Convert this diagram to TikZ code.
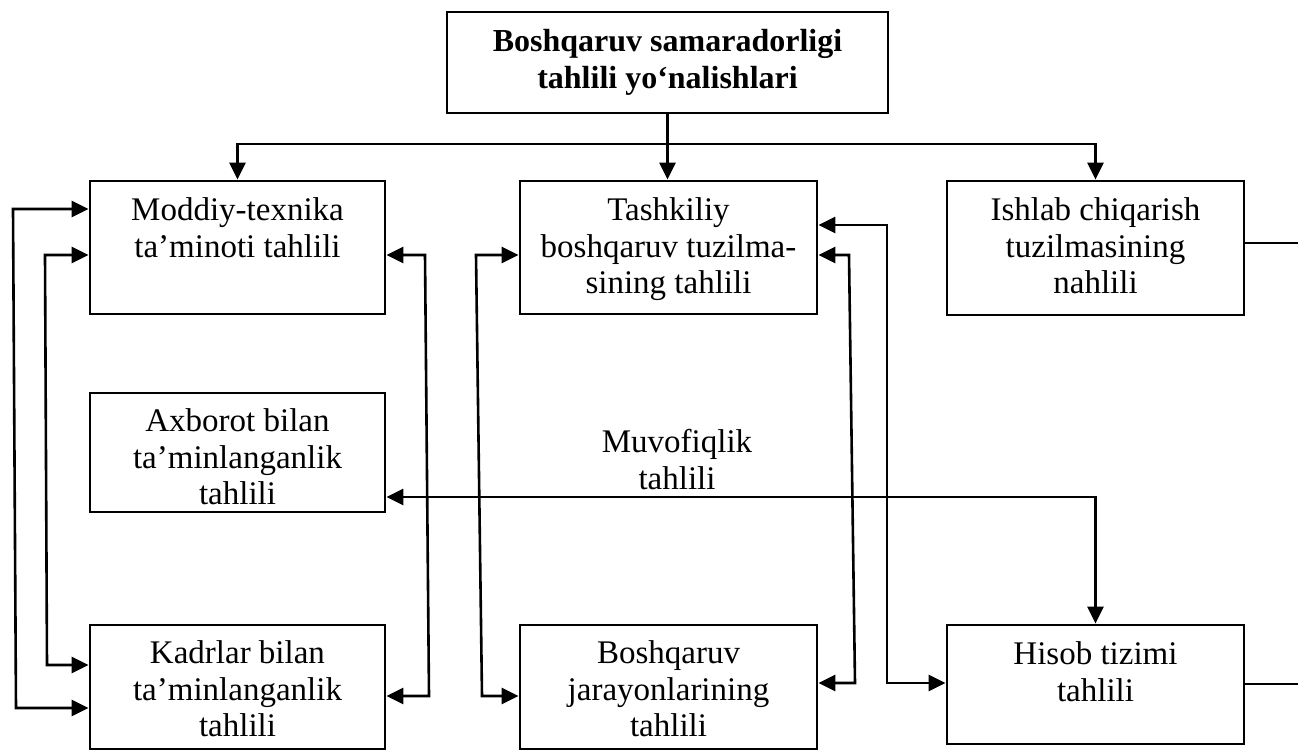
\documentclass[tikz,border=0pt]{standalone}
\usepackage{fontspec}
\setmainfont{Liberation Serif}
\usetikzlibrary{arrows.meta}
\begin{document}
\begin{tikzpicture}[x=1pt,y=-1pt,
  box/.style={draw, line width=2.8pt, inner sep=0pt, rectangle},
  txt/.style={anchor=north, inner sep=0pt, align=center, font=\fontsize{33}{36.5}\selectfont},
  ttl/.style={anchor=north, inner sep=0pt, align=center, font=\fontsize{32}{37}\selectfont\bfseries},
  link/.style={line width=2.6pt},
  arr/.style={link, -{Triangle[length=17pt,width=16pt]}},
  arrs/.style={link, {Triangle[length=17pt,width=16pt]}-{Triangle[length=17pt,width=16pt]}}]
\useasboundingbox (0,0) rectangle (1298,752);

% boxes
\node[box, minimum width=441pt, minimum height=101pt] (top) at (667.5,62.5) {};
\node[box, minimum width=295pt, minimum height=133pt] (mod) at (237.5,247.5) {};
\node[box, minimum width=297pt, minimum height=133pt] (tash) at (668.5,247.5) {};
\node[box, minimum width=297pt, minimum height=134pt] (ish) at (1095.5,248) {};
\node[box, minimum width=295pt, minimum height=119pt] (axb) at (237.5,452.5) {};
\node[box, minimum width=295pt, minimum height=124pt] (kad) at (237.5,687) {};
\node[box, minimum width=297pt, minimum height=124pt] (bosh) at (668.5,687) {};
\node[box, minimum width=297pt, minimum height=119pt] (his) at (1095.5,684.5) {};

% box texts
\node[ttl] (top-t) at ([yshift=-15pt]top.north) {\strut Boshqaruv samaradorligi\\\strut tahlili yo‘nalishlari};
\node[txt] (mod-t) at ([yshift=-15.5pt]mod.north) {\strut Moddiy-texnika\\\strut ta’minoti tahlili};
\node[txt] (tash-t) at ([yshift=-15.5pt]tash.north) {\strut Tashkiliy\\\strut boshqaruv tuzilma-\\\strut sining tahlili};
\node[txt] (ish-t) at ([yshift=-15.5pt]ish.north) {\strut Ishlab chiqarish\\\strut tuzilmasining\\\strut nahlili};
\node[txt] (axb-t) at ([yshift=-14.5pt]axb.north) {\strut Axborot bilan\\\strut ta’minlanganlik\\\strut tahlili};
\node[txt] (kad-t) at ([yshift=-14.5pt]kad.north) {\strut Kadrlar bilan\\\strut ta’minlanganlik\\\strut tahlili};
\node[txt] (bosh-t) at ([yshift=-14.5pt]bosh.north) {\strut Boshqaruv\\\strut jarayonlarining\\\strut tahlili};
\node[txt] (his-t) at ([yshift=-15.5pt]his.north) {\strut Hisob tizimi\\\strut tahlili};
\node[txt] (muv) at (677,427) {\strut Muvofiqlik\\\strut tahlili};

% routing points
\coordinate (bar) at (669,144);
\coordinate (a1) at (13,209);  \coordinate (a2) at (16,708);
\coordinate (b1) at (45,255);  \coordinate (b2) at (47,665);
\coordinate (c1) at (425,255); \coordinate (c2) at (429,696);
\coordinate (d1) at (476,255); \coordinate (d2) at (482,696);
\coordinate (e)  at (1097,497);
\coordinate (f1) at (849,255); \coordinate (f2) at (855,683);
\coordinate (g1) at (887,225); \coordinate (g2) at (887,683);
\coordinate (h1) at (1298,243); \coordinate (h2) at (1298,684);

% top distribution
\draw[arr] (top.south) -- (top.south |- tash.north);
\draw[arr] (bar) -| (mod.north);
\draw[arr] (bar) -| (ish.north);

% left side links
\draw[arrs] (mod.west |- a1) -- (a1) -- (a2) -- (kad.west |- a2);
\draw[arrs] (mod.west |- b1) -- (b1) -- (b2) -- (kad.west |- b2);
\draw[arrs] (mod.east |- c1) -- (c1) -- (c2) -- (kad.east |- c2);
\draw[arrs] (tash.west |- d1) -- (d1) -- (d2) -- (bosh.west |- d2);

% middle and right links
\draw[arrs] (axb.east |- e) -| (his.north);
\draw[arrs] (tash.east |- f1) -- (f1) -- (f2) -- (bosh.east |- f2);
\draw[arrs] (tash.east |- g1) -- (g1) -- (g2) -- (his.west |- g2);

% outgoing lines on the right
\draw[link] (ish.east |- h1) -- (h1);
\draw[link] (his.east |- h2) -- (h2);
\end{tikzpicture}
\end{document}
